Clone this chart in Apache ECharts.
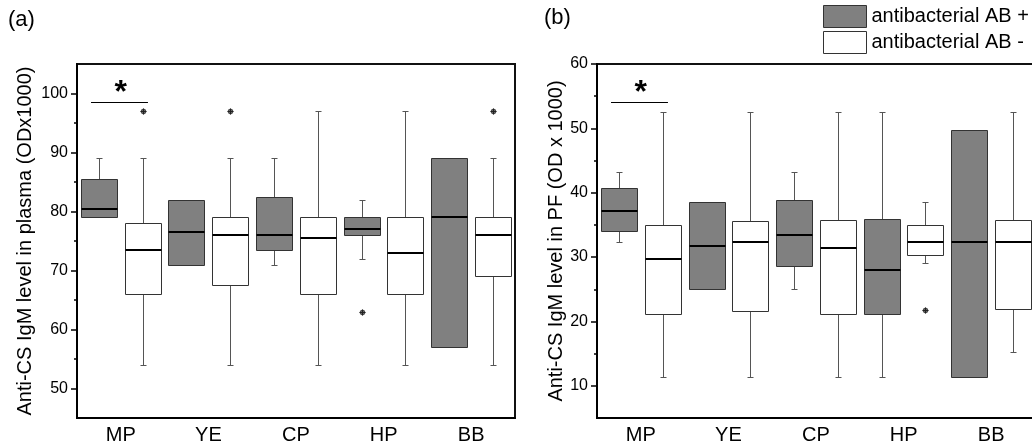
<!DOCTYPE html>
<html>
<head>
<meta charset="utf-8">
<script src="https://cdn.jsdelivr.net/npm/echarts@6/dist/echarts.min.js"></script>
<style>html,body{margin:0;padding:0;background:#fff}#c{width:1032px;height:444px}</style>
</head>
<body>
<div id="c"></div>
<script>
// ---------- data ----------
const categories = ['MP', 'YE', 'CP', 'HP', 'BB'];
// each box: [min, Q1, median, Q3, max]
const plasmaABplus = [
  [79, 79, 80.4, 85.5, 89],
  [71, 71, 76.5, 82, 82],
  [71, 73.5, 76, 82.5, 89],
  [72, 76, 77, 79, 82],
  [57, 57, 79, 89, 89]
];
const plasmaABminus = [
  [54, 66, 73.5, 78, 89],
  [54, 67.5, 76, 79, 89],
  [54, 66, 75.5, 79, 97],
  [54, 66, 73, 79, 97],
  [54, 69, 76, 79, 89]
];
// outliers: [category index, value]
const plasmaOutPlus = [[3, 63]];
const plasmaOutMinus = [[0, 97], [1, 97], [4, 97]];
const plasmaSig = [[0, 98.5]];

const pfABplus = [
  [32.4, 34.1, 37.1, 40.8, 43.2],
  [25, 25, 31.7, 38.5, 38.5],
  [25, 28.6, 33.4, 38.9, 43.2],
  [11.3, 21.2, 28, 35.9, 52.5],
  [11.3, 11.3, 32.3, 49.7, 49.7]
];
const pfABminus = [
  [11.3, 21.2, 29.7, 35, 52.5],
  [11.3, 21.6, 32.3, 35.6, 52.5],
  [11.3, 21.2, 31.4, 35.7, 52.5],
  [29.1, 30.4, 32.3, 35, 38.5],
  [15.3, 21.9, 32.3, 35.7, 52.5]
];
const pfOutPlus = [];
const pfOutMinus = [[3, 21.8]];
const pfSig = [[0, 54.1]];

const plasmaMajorTicks = [50, 60, 70, 80, 90, 100];
const plasmaMinorTicks = [55, 65, 75, 85, 95];
const pfMajorTicks = [10, 20, 30, 40, 50, 60];
const pfMinorTicks = [15, 25, 35, 45, 55];

const nameP = 'antibacterial AB +';
const nameM = 'antibacterial AB -';
const FONT = 'Liberation Sans, Arial, sans-serif';
const GRAY = '#808080';

// ---------- render helpers ----------
function boxRender(side, fill) {
  return function (params, api) {
    const x = api.value(0);
    const band = api.size([1, 0])[0];
    const cx = Math.round(api.coord([x, api.value(3)])[0] + side * band / 4) + 0.5;
    const half = Math.round(band * 0.4 / 2);
    const py = i => Math.round(api.coord([x, api.value(i)])[1]) + 0.5;
    const yMin = py(1), yQ1 = py(2), yMed = py(3), yQ3 = py(4), yMax = py(5);
    const ws = { stroke: '#555', lineWidth: 1 };
    const ch = [];
    if (yMax < yQ3 - 0.5) {
      ch.push({ type: 'line', shape: { x1: cx, y1: yQ3, x2: cx, y2: yMax }, style: ws });
      ch.push({ type: 'line', shape: { x1: cx - 3, y1: yMax, x2: cx + 3, y2: yMax }, style: ws });
    }
    if (yMin > yQ1 + 0.5) {
      ch.push({ type: 'line', shape: { x1: cx, y1: yQ1, x2: cx, y2: yMin }, style: ws });
      ch.push({ type: 'line', shape: { x1: cx - 3, y1: yMin, x2: cx + 3, y2: yMin }, style: ws });
    }
    ch.push({ type: 'rect', shape: { x: cx - half, y: yQ3, width: 2 * half, height: yQ1 - yQ3 },
      style: { fill: fill, stroke: '#333', lineWidth: 1 } });
    ch.push({ type: 'line', shape: { x1: cx - half, y1: yMed - 0.5, x2: cx + half, y2: yMed - 0.5 },
      style: { stroke: '#000', lineWidth: 2 } });
    return { type: 'group', children: ch };
  };
}
function outRender(side) {
  return function (params, api) {
    const band = api.size([1, 0])[0];
    const p = api.coord([api.value(0), api.value(1)]);
    const cx = Math.round(p[0] + side * band / 4) + 0.5;
    const cy = Math.round(p[1]) + 0.5;
    return { type: 'group', children: [
      { type: 'circle', shape: { cx: cx, cy: cy, r: 2.4 }, style: { fill: '#666', stroke: '#333', lineWidth: 0.8 } },
      { type: 'line', shape: { x1: cx - 3, y1: cy, x2: cx + 3, y2: cy }, style: { stroke: '#222', lineWidth: 1 } },
      { type: 'line', shape: { x1: cx, y1: cy - 3, x2: cx, y2: cy + 3 }, style: { stroke: '#222', lineWidth: 1 } }
    ] };
  };
}
function sigRender(params, api) {
  const band = api.size([1, 0])[0];
  const p = api.coord([api.value(0), api.value(1)]);
  const y = Math.round(p[1]) + 0.5;
  return { type: 'group', children: [
    { type: 'line', shape: { x1: p[0] - band * 0.34, y1: y, x2: p[0] + band * 0.31, y2: y },
      style: { stroke: '#000', lineWidth: 1 } },
    { type: 'text', x: p[0], y: y + 7,
      style: { text: '*', fill: '#000', font: 'bold 32px ' + FONT, textAlign: 'center', textVerticalAlign: 'bottom' } }
  ] };
}
const boxData = arr => arr.map((b, i) => [i].concat(b));

function panelSeries(gi, plus, minus, outP, outM, sig) {
  const base = { type: 'custom', xAxisIndex: gi, yAxisIndex: gi * 2, clip: false };
  return [
    Object.assign({}, base, { name: nameP, data: boxData(plus), encode: { x: 0, y: [1, 2, 3, 4, 5] },
      itemStyle: { color: GRAY, borderColor: '#333', borderWidth: 1 }, renderItem: boxRender(-1, GRAY) }),
    Object.assign({}, base, { name: nameM, data: boxData(minus), encode: { x: 0, y: [1, 2, 3, 4, 5] },
      itemStyle: { color: '#fff', borderColor: '#333', borderWidth: 1 }, renderItem: boxRender(1, '#fff') }),
    Object.assign({}, base, { name: nameP, data: outP, encode: { x: 0, y: 1 }, renderItem: outRender(-1) }),
    Object.assign({}, base, { name: nameM, data: outM, encode: { x: 0, y: 1 }, renderItem: outRender(1) }),
    Object.assign({}, base, { name: 'sig', data: sig, encode: { x: 0, y: 1 }, renderItem: sigRender })
  ];
}

function xAxis(gi) {
  return { type: 'category', gridIndex: gi, data: categories, boundaryGap: true,
    axisLine: { lineStyle: { color: '#000', width: 2 } }, axisTick: { show: false },
    axisLabel: { color: '#000', fontSize: 20, fontFamily: FONT, margin: 7 }, splitLine: { show: false } };
}
function yAxes(gi, min, max, major, minor, name, gap) {
  return [
    { type: 'value', gridIndex: gi, position: 'left', min: min, max: max, name: name,
      nameLocation: 'middle', nameGap: gap,
      nameTextStyle: { color: '#000', fontSize: 20, fontFamily: FONT },
      axisLine: { show: true, lineStyle: { color: '#000', width: 2 } },
      axisTick: { show: true, length: 6, customValues: major, lineStyle: { color: '#000', width: 1.5 } },
      axisLabel: { customValues: major, color: '#000', fontSize: 16, fontFamily: FONT, margin: 9 },
      splitLine: { show: false } },
    { type: 'value', gridIndex: gi, position: 'left', min: min, max: max,
      axisLine: { show: false },
      axisTick: { show: true, length: 3, customValues: minor, lineStyle: { color: '#000', width: 1.5 } },
      axisLabel: { show: false }, splitLine: { show: false } }
  ];
}

const chart = echarts.init(document.getElementById('c'), null, { renderer: 'canvas' });
chart.setOption({
  animation: false,
  backgroundColor: '#fff',
  textStyle: { fontFamily: FONT },
  title: [
    { text: '(a)', left: 8, top: 9, padding: 0, textStyle: { fontSize: 22, fontWeight: 'normal', color: '#000', fontFamily: FONT } },
    { text: '(b)', left: 544, top: 7, padding: 0, textStyle: { fontSize: 22, fontWeight: 'normal', color: '#000', fontFamily: FONT } }
  ],
  legend: {
    orient: 'vertical', left: 823, top: 5, padding: 0, itemWidth: 43, itemHeight: 22, itemGap: 3,
    textStyle: { fontSize: 20, color: '#000', fontFamily: FONT },
    data: [
      { name: nameP, icon: 'rect', itemStyle: { color: GRAY, borderColor: '#333', borderWidth: 1 } },
      { name: nameM, icon: 'rect', itemStyle: { color: '#fff', borderColor: '#333', borderWidth: 1 } }
    ]
  },
  grid: [
    { left: 77, top: 64, right: 517, bottom: 26, show: true, borderColor: '#111', borderWidth: 2, outerBoundsMode: 'none' },
    { left: 597, top: 64, right: -3, bottom: 26, show: true, borderColor: '#111', borderWidth: 2, outerBoundsMode: 'none' }
  ],
  xAxis: [xAxis(0), xAxis(1)],
  yAxis: yAxes(0, 45, 105, plasmaMajorTicks, plasmaMinorTicks, 'Anti-CS IgM level in plasma (ODx1000)', 42)
    .concat(yAxes(1, 5, 60, pfMajorTicks, pfMinorTicks, 'Anti-CS IgM level in PF (OD x 1000)', 30)),
  series: panelSeries(0, plasmaABplus, plasmaABminus, plasmaOutPlus, plasmaOutMinus, plasmaSig)
    .concat(panelSeries(1, pfABplus, pfABminus, pfOutPlus, pfOutMinus, pfSig))
});
</script>
</body>
</html>
